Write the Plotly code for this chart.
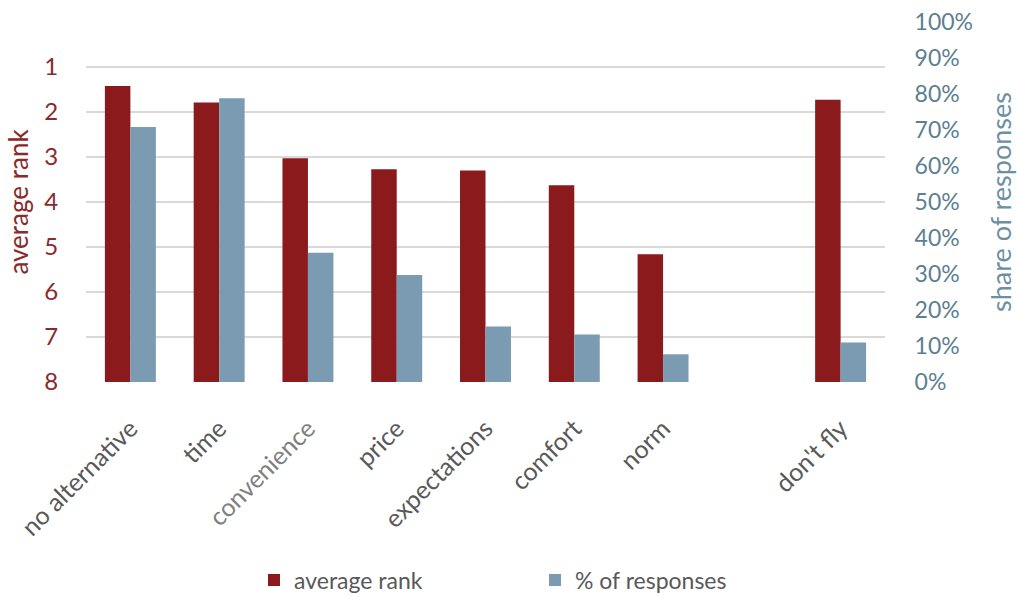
import plotly.graph_objects as go

# Reasons for choosing to fly: average rank (1 = most important) and share of responses
categories = ["no alternative", "time", "convenience", "price", "expectations",
              "comfort", "norm", " ", "don't fly"]
avg_rank = [1.42, 1.79, 3.03, 3.27, 3.30, 3.63, 5.16, None, 1.73]
share_pct = [70.8, 78.8, 35.9, 29.7, 15.4, 13.2, 7.7, None, 11.0]

rank_ticks = [0, 1, 2, 3, 4, 5, 6, 7, 8]
rank_ticktext = ["", "1", "2", "3", "4", "5", "6", "7", "8"]
share_ticks = [0, 10, 20, 30, 40, 50, 60, 70, 80, 90, 100]
share_ticktext = [f"{v}%" for v in share_ticks]

RED = "#8a1a1c"
BLUE = "#7a9bb2"
RED_TEXT = "#8a2a2a"
BLUE_TEXT = "#5d7f92"
GREY_TEXT = "#595959"
FONT = "Lato"

RANK_FLOOR = 8  # rank bars rise from the bottom of the reversed rank scale
BAR_W = 0.287

fig = go.Figure()

fig.add_trace(go.Bar(
    name="average rank",
    x=categories,
    base=[RANK_FLOOR if r is not None else None for r in avg_rank],
    y=[r - RANK_FLOOR if r is not None else None for r in avg_rank],
    marker=dict(color=RED, line=dict(width=0)),
    width=BAR_W,
    offset=-BAR_W,
    yaxis="y",
))

fig.add_trace(go.Bar(
    name="% of responses",
    x=categories,
    y=share_pct,
    marker=dict(color=BLUE, line=dict(width=0)),
    width=BAR_W,
    offset=0,
    yaxis="y2",
))

tick_labels = [
    f'<span style="color:#7f7f7f">{c}</span>' if c == "convenience" else c
    for c in categories
]

fig.update_layout(
    width=1017,
    height=596,
    margin=dict(l=86, r=132, t=22, b=214),
    paper_bgcolor="white",
    plot_bgcolor="white",
    barmode="overlay",
    font=dict(family=FONT, color=GREY_TEXT),
    xaxis=dict(
        type="category",
        categoryorder="array",
        categoryarray=categories,
        tickmode="array",
        tickvals=categories,
        ticktext=tick_labels,
        range=[-0.5, len(categories) - 0.5],
        tickangle=-45,
        tickfont=dict(size=25, color=GREY_TEXT),
        showgrid=False,
        showline=False,
        zeroline=False,
        ticks="outside",
        ticklen=21,
        tickcolor="rgba(0,0,0,0)",
        automargin=False,
    ),
    yaxis=dict(
        range=[8, 0],
        tickmode="array",
        tickvals=rank_ticks,
        ticktext=rank_ticktext,
        tickfont=dict(size=24, color=RED_TEXT),
        showgrid=True,
        gridcolor="#d9d9d9",
        gridwidth=2,
        zeroline=False,
        showline=False,
        ticks="outside",
        ticklen=22,
        tickcolor="rgba(0,0,0,0)",
        automargin=False,
        title=dict(text="average rank", font=dict(size=26, color=RED_TEXT), standoff=8),
    ),
    yaxis2=dict(
        overlaying="y",
        side="right",
        range=[0, 100],
        tickmode="array",
        tickvals=share_ticks,
        ticktext=share_ticktext,
        tickfont=dict(size=23, color=BLUE_TEXT),
        showgrid=False,
        zeroline=False,
        showline=False,
        ticks="outside",
        ticklen=24,
        tickcolor="rgba(0,0,0,0)",
        automargin=False,
        title=dict(text="share of responses", font=dict(size=27, color="#6d8fa3"), standoff=22),
    ),
    legend=dict(
        orientation="h",
        xref="container",
        yref="container",
        x=254 / 1017,
        xanchor="left",
        y=1 - 580 / 596,
        yanchor="middle",
        entrywidth=236,
        font=dict(size=23, color=GREY_TEXT),
        bgcolor="rgba(0,0,0,0)",
    ),
    showlegend=True,
)

fig.write_html("out.html")
